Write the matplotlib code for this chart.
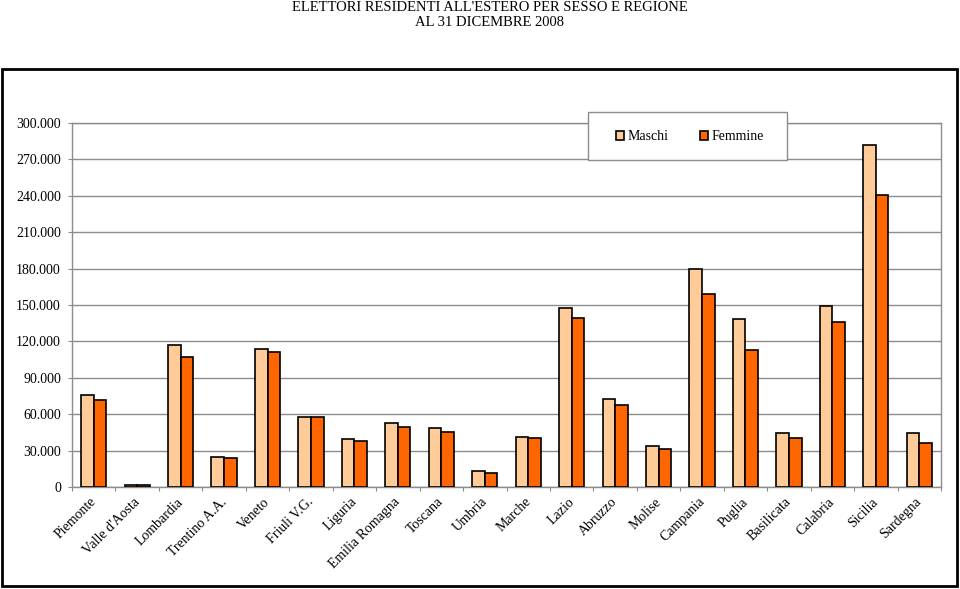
import matplotlib
matplotlib.use("Agg")
import matplotlib.pyplot as plt
import numpy as np
from matplotlib.patches import Rectangle

regioni = ["Piemonte", "Valle d'Aosta", "Lombardia", "Trentino A.A.", "Veneto",
           "Friuli V.G.", "Liguria", "Emilia Romagna", "Toscana", "Umbria",
           "Marche", "Lazio", "Abruzzo", "Molise", "Campania", "Puglia",
           "Basilicata", "Calabria", "Sicilia", "Sardegna"]
maschi = [75800, 1600, 117000, 24500, 113700, 57700, 39300, 52500, 48900, 12900,
          41000, 147500, 72800, 33800, 179900, 138200, 44300, 149400, 281900, 44300]
femmine = [71700, 1400, 107400, 24000, 111000, 57900, 37600, 49200, 45600, 11500,
           40400, 139300, 67300, 31600, 159300, 112900, 40600, 135700, 240900, 36500]
yticks = [0, 30000, 60000, 90000, 120000, 150000, 180000, 210000, 240000, 270000, 300000]
title = "ELETTORI RESIDENTI ALL'ESTERO PER SESSO E REGIONE\nAL 31 DICEMBRE 2008"

plt.rcParams['font.family'] = ['Liberation Serif', 'DejaVu Serif']

W, H = 960, 589
fig = plt.figure(figsize=(W/100, H/100), dpi=100)

def fx(px):
    return px / W

def fy(py):
    return 1 - py / H

# outer frame
fig.patches.append(Rectangle((fx(2), fy(586)), fx(955), (586-69)/H, transform=fig.transFigure,
                             fill=False, edgecolor='black', linewidth=2))

fig.text(fx(490), fy(15), title, ha='center', va='center', fontsize=10.5, linespacing=1.12)

left, right, top, bottom = 72, 941, 123, 487
ax = fig.add_axes([fx(left), fy(bottom), (right-left)/W, (bottom-top)/H])

x = np.arange(len(regioni))
bw = 0.29
ax.bar(x - bw/2, maschi, bw, color='#FFCC99', edgecolor='black', linewidth=1.2,
       label='Maschi', zorder=3)
ax.bar(x + bw/2, femmine, bw, color='#FF6600', edgecolor='black', linewidth=1.2,
       label='Femmine', zorder=3)

ax.set_xlim(-0.5, len(regioni)-0.5)
ax.set_ylim(0, 300000)
ax.set_yticks(yticks)
ax.set_yticklabels([f"{v:,}".replace(",", ".") for v in yticks], fontsize=10)
ax.yaxis.grid(True, color='#8c8c8c', linewidth=1, zorder=0)
ax.set_axisbelow(True)
for s in ax.spines.values():
    s.set_color('#8c8c8c')
    s.set_linewidth(1)

ax.set_xticks(np.arange(len(regioni)+1) - 0.5)
ax.set_xticklabels([])
ax.tick_params(axis='x', direction='out', length=3, color='#8c8c8c')
ax.tick_params(axis='y', direction='out', length=3, color='#8c8c8c', pad=5)

for i, name in enumerate(regioni):
    ax.annotate(name, xy=(i, 0), xycoords=('data', 'axes fraction'),
                xytext=(-3, -6), textcoords='offset points',
                rotation=45, ha='right', va='top', rotation_mode='anchor',
                fontsize=10)

# legend box
fig.patches.append(Rectangle((fx(588), fy(160)), (787-588)/W, (160-112)/H,
                             transform=fig.transFigure, facecolor='white',
                             edgecolor='#8c8c8c', linewidth=1, zorder=4))
h, l = ax.get_legend_handles_labels()
leg = fig.legend(h, l, loc='center', bbox_to_anchor=(fx(690), fy(137)),
                 ncol=2, frameon=False, fontsize=10,
                 handlelength=0.55, handleheight=0.55, handletextpad=0.25,
                 columnspacing=2.3, borderpad=0)
leg.set_zorder(6)

fig.savefig("out.png", dpi=100)
